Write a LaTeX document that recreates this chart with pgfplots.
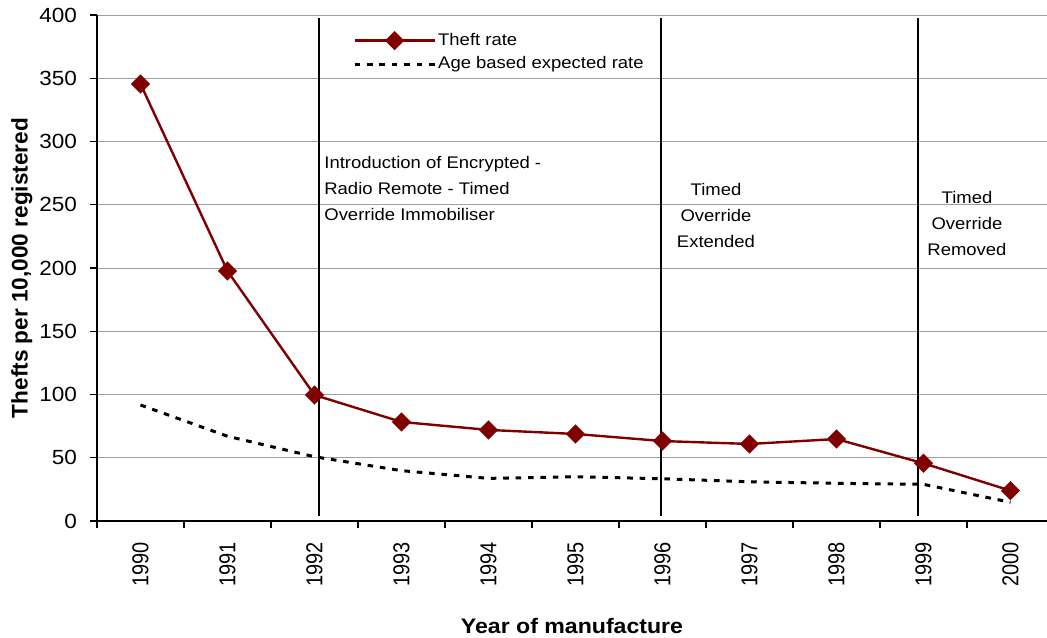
\documentclass[border=0pt]{standalone}
\usepackage{graphicx}
\usepackage{fontspec}
\setmainfont[FakeStretch=1.1]{Liberation Sans}
\newfontfamily\rotfont{Liberation Sans}
\usepackage{pgfplots}
\pgfplotsset{compat=1.18}
\definecolor{theft}{HTML}{800000}
\newcommand{\rl}[1]{\scalebox{1}[1.15]{\rotfont #1}}
\begin{document}
\begin{tikzpicture}
\begin{axis}[
  scale only axis,
  width=475pt, height=253pt,
  xmin=-0.5, xmax=10.42,
  ymin=0, ymax=400,
  axis x line*=bottom, axis y line*=left,
  axis line style={line width=0.7pt, black},
  tick align=outside,
  xtick={0,...,10},
  xticklabels={\rl{1990},\rl{1991},\rl{1992},\rl{1993},\rl{1994},\rl{1995},\rl{1996},\rl{1997},\rl{1998},\rl{1999},\rl{2000}},
  major x tick style={draw=none},
  minor xtick={-0.5,0.5,...,9.5},
  minor tick length=3.5pt,
  minor x tick style={black, line width=0.6pt},
  xticklabel style={rotate=90, anchor=east, font=\fontsize{10}{11}\selectfont, xshift=-3.5pt},
  ytick={0,50,...,400},
  major tick length=3.5pt,
  major y tick style={black, line width=0.6pt},
  yticklabel style={font=\fontsize{10.25}{12}\selectfont, xshift=-3pt},
  /pgf/number format/assume math mode=true,
  ymajorgrids,
  grid style={line width=0.5pt, black!38},
  xlabel={\fontsize{10.5}{12}\selectfont\bfseries Year of manufacture},
  xlabel style={at={(axis description cs:0.5,-0.2075)}, anchor=center},
  ylabel={\rotfont\fontsize{11.3}{13}\selectfont\bfseries Thefts per 10,000 registered},
  ylabel style={at={(axis description cs:-0.079,0.5)}, anchor=center, rotate=0},
  legend style={at={(axis cs:2.44,370.4)}, anchor=west, draw=none, fill=none,
    font=\fontsize{8.4}{10}\selectfont, inner sep=0pt, row sep=2.2pt,
    nodes={inner sep=1pt}},
  legend cell align=left,
  legend image code/.code={\draw[mark repeat=2,mark phase=2,#1] plot coordinates {(0pt,0pt) (20pt,0pt) (40pt,0pt)};},
  clip=false,
]
\addplot[theft, line width=1.2pt, mark=square*, mark size=2.8pt, mark options={rotate=45, solid, fill=theft}]
  coordinates {(0,345.5)(1,197.6)(2,99.6)(3,78.3)(4,72)(5,68.8)(6,63.2)(7,60.9)(8,64.8)(9,45.6)(10,24)};
\addlegendentry{Theft rate}
\addplot[black, line width=1.5pt, dash pattern=on 2.8pt off 3.4pt]
  coordinates {(0,91.7)(1,67)(2,50.8)(3,39.8)(4,33.7)(5,35)(6,33.4)(7,31)(8,29.8)(9,29)(10,14.8)};
\addlegendentry{Age based expected rate}
\addplot[black, line width=1pt, forget plot] coordinates {(2.05,4)(2.05,397.6)};
\addplot[black, line width=1pt, forget plot] coordinates {(5.98,4)(5.98,397.6)};
\addplot[black, line width=1pt, forget plot] coordinates {(8.94,4)(8.94,397.6)};
\node[anchor=west, align=left, font=\fontsize{8.4}{13}\selectfont, inner sep=0pt] at (axis cs:2.109,263.2)
  {Introduction of Encrypted -\\Radio Remote - Timed\\Override Immobiliser};
\node[align=center, font=\fontsize{8.4}{13}\selectfont, inner sep=0pt] at (axis cs:6.615,241.9)
  {Timed\\Override\\Extended};
\node[align=center, font=\fontsize{8.4}{13}\selectfont, inner sep=0pt] at (axis cs:9.5,234.8)
  {Timed\\Override\\Removed};
\end{axis}
\pgfresetboundingbox
\path (-48.5pt,-58pt) rectangle (475pt,260.5pt);
\end{tikzpicture}
\end{document}
